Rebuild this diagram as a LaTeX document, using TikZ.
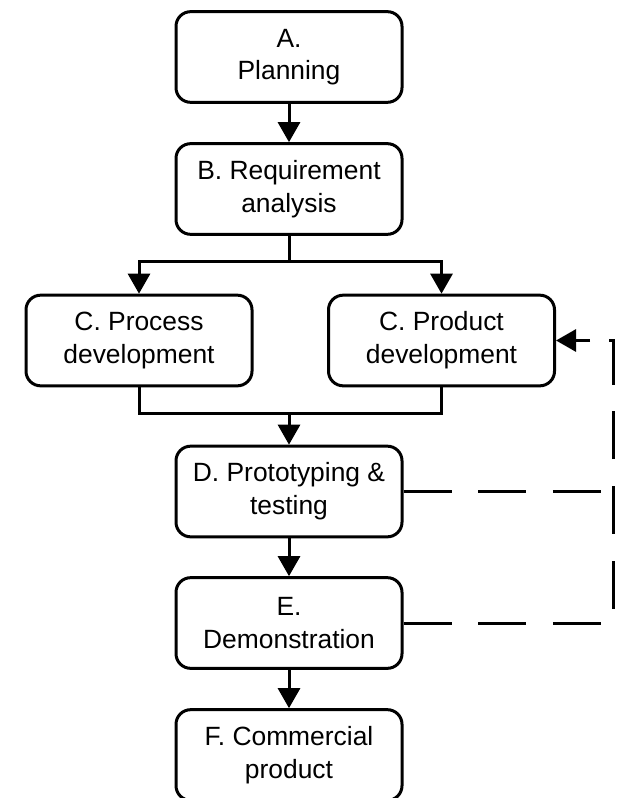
\documentclass[tikz,border=0pt]{standalone}
\usepackage{fontspec}
\setmainfont{Liberation Sans}
\usetikzlibrary{arrows.meta}
\begin{document}
\begin{tikzpicture}[x=0.75pt,y=-0.75pt,
  stage/.style={draw,line width=2.25pt,rounded corners=11pt,minimum width=169.5pt,minimum height=68pt,align=center,inner sep=0pt,font=\fontsize{19.8}{24.5}\selectfont},
  tip/.style={-{Triangle[length=15pt,width=16.5pt]}},
  flow/.style={line width=2.25pt,tip},
  link/.style={line width=2.25pt},
  fb/.style={line width=2.25pt,dash pattern=on 36pt off 20pt}]
\useasboundingbox (0,0) rectangle (624,798);
\node[stage] (A) at (289,57) {A.\\Planning};
\node[stage] (B) at (289,189) {B. Requirement\\analysis};
\node[stage] (CL) at (139,340.5) {C. Process\\development};
\node[stage] (CR) at (441.5,340.5) {C. Product\\development};
\node[stage] (D) at (289,491.5) {D. Prototyping \&\\testing};
\node[stage] (E) at (289,623) {E.\\Demonstration};
\node[stage] (F) at (289,755) {F. Commercial\\product};
% connectors
\draw[flow] (A) -- (B);
\coordinate (split) at (289,262);
\coordinate (splitL) at (139,262);
\coordinate (splitR) at (441.5,262);
\draw[link] (B) -- (split);
\draw[flow] (split) -- (splitL) -- (CL);
\draw[flow] (split) -- (splitR) -- (CR);
\coordinate (joinL) at (139,413);
\coordinate (joinR) at (441.5,413);
\coordinate (join) at (289,413);
\draw[link] (CL) -- (joinL) -- (joinR) -- (CR);
\draw[flow] (join) -- (D);
\draw[flow] (D) -- (E);
\draw[flow] (E) -- (F);
% feedback
\coordinate (fbD) at (613,491.5);
\coordinate (fbE) at (613,623);
\coordinate (fbC) at (613,340.5);
\coordinate (fbT) at (600,340.5);
\coordinate (fbS) at (590,340.5);
\draw[fb] (D.east) -- (fbD);
\draw[fb] (E.east) -- (fbE) -- (fbC) -- (fbT);
\draw[flow] (fbS) -- (CR.east);
\end{tikzpicture}
\end{document}
